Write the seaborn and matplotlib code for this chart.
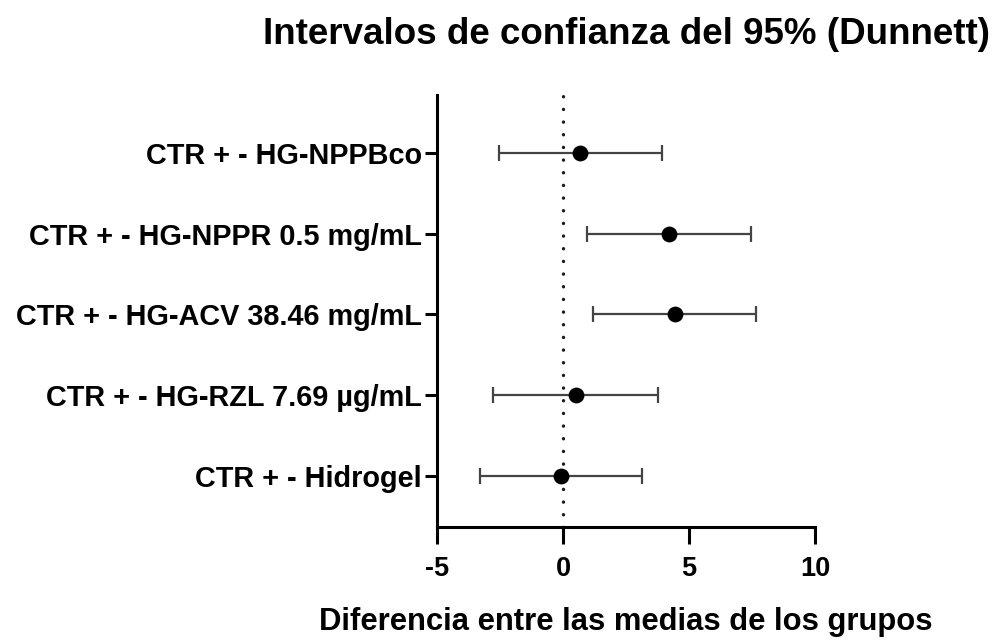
import matplotlib
matplotlib.use("Agg")
import matplotlib.pyplot as plt
import seaborn as sns
import numpy as np
import pandas as pd

comparisons = [
    "CTR + - HG-NPPBco",
    "CTR + - HG-NPPR 0.5 mg/mL",
    "CTR + - HG-ACV 38.46 mg/mL",
    "CTR + - HG-RZL 7.69 \u00b5g/mL",
    "CTR + - Hidrogel",
]
mean_diff = [0.69, 4.20, 4.43, 0.51, -0.08]
ci_low = [-2.54, 0.96, 1.18, -2.76, -3.31]
ci_high = [3.93, 7.45, 7.66, 3.76, 3.14]
x_ticks = [-5, 0, 5, 10]

sns.set_theme(style="ticks")
plt.rcParams["font.family"] = ["Liberation Sans", "DejaVu Sans"]
plt.rcParams["font.weight"] = "bold"
plt.rcParams["text.color"] = "black"
plt.rcParams["axes.labelcolor"] = "black"

df = pd.DataFrame({
    "comparison": comparisons,
    "pos": np.arange(len(comparisons)),
    "diff": mean_diff,
    "low": ci_low,
    "high": ci_high,
})

fig = plt.figure(figsize=(9.93, 6.43), dpi=100)
ax = fig.add_axes([0.440, 0.180, 0.381, 0.672])

# reference line at zero difference (round dots)
ax.axvline(0, color="#1a1a1a", lw=2.4, linestyle=(0, (0.05, 3.75)),
           dash_capstyle="round", zorder=1)

# confidence intervals
ax.errorbar(
    df["diff"], df["pos"],
    xerr=[df["diff"] - df["low"], df["high"] - df["diff"]],
    fmt="none", ecolor="#444444", elinewidth=1.6,
    capsize=6, capthick=1.6, zorder=2,
)

sns.scatterplot(data=df, x="diff", y="pos", ax=ax, color="black",
                s=130, edgecolor="black", linewidth=0, zorder=3, legend=False)

ax.set_xlim(-5, 10)
ax.set_ylim(4.63, -0.71)
ax.set_xticks(x_ticks)
ax.set_xticklabels([str(t) for t in x_ticks])
ax.set_yticks(df["pos"])
ax.set_yticklabels(comparisons)

for side in ["top", "right"]:
    ax.spines[side].set_visible(False)
for side in ["left", "bottom"]:
    ax.spines[side].set_linewidth(2.2)
    ax.spines[side].set_color("black")

ax.tick_params(axis="x", length=12, width=2.2, labelsize=19.5, pad=9,
               colors="black", labelcolor="black")
ax.tick_params(axis="y", length=9, width=2.2, labelsize=20.8, pad=2,
               colors="black", labelcolor="black")
for lbl in ax.get_xticklabels() + ax.get_yticklabels():
    lbl.set_fontweight("bold")

ax.set_xlabel("Diferencia entre las medias de los grupos", fontsize=22.3,
              fontweight="bold", labelpad=18, color="black")
ax.set_ylabel("")
ax.set_title("Intervalos de confianza del 95% (Dunnett)", fontsize=26.5,
             fontweight="bold", pad=37, color="black")

fig.savefig("out.png", dpi=100, facecolor="white")
